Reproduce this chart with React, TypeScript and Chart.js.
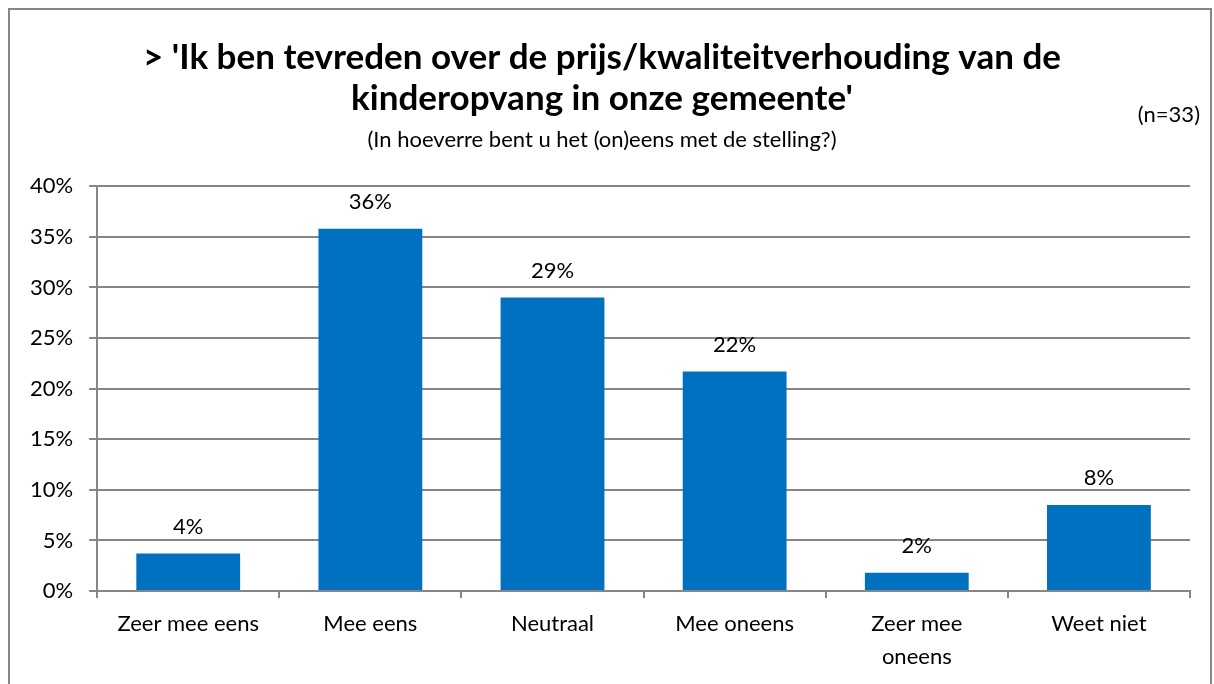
import React, { useEffect, useRef } from "react";
import { Chart, registerables } from "chart.js";

Chart.register(...registerables);

const categories: (string | string[])[] = [
  "Zeer mee eens",
  "Mee eens",
  "Neutraal",
  "Mee oneens",
  ["Zeer mee", "oneens"],
  "Weet niet",
];
const values: number[] = [3.7, 35.8, 29.0, 21.7, 1.8, 8.5];
const valueLabels: string[] = ["4%", "36%", "29%", "22%", "2%", "8%"];
const titleLines: string[] = [
  "> 'Ik ben tevreden over de prijs/kwaliteitverhouding van de",
  "kinderopvang in onze gemeente'",
];
const subtitleText = "(In hoeverre bent u het (on)eens met de stelling?)";
const sampleText = "(n=33)";

const FONT = "Lato, 'Open Sans', sans-serif";

const decorPlugin = {
  id: "decor",
  beforeDraw(chart: any) {
    const ctx = chart.ctx;
    ctx.save();
    ctx.fillStyle = "#ffffff";
    ctx.fillRect(0, 0, chart.width, chart.height);
    ctx.strokeStyle = "#868686";
    ctx.lineWidth = 2;
    ctx.strokeRect(9, 9, 1202, 720);
    ctx.restore();
  },
  afterDraw(chart: any) {
    const ctx = chart.ctx;
    ctx.save();
    ctx.fillStyle = "#000";
    ctx.font = `22px ${FONT}`;
    ctx.textAlign = "right";
    ctx.textBaseline = "middle";
    ctx.fillText(sampleText, 1200, 115);
    const meta = chart.getDatasetMeta(0);
    ctx.textAlign = "center";
    meta.data.forEach((bar: any, i: number) => {
      ctx.fillText(valueLabels[i], bar.x, bar.y - 27);
    });
    ctx.restore();
  },
};

export default function App() {
  const ref = useRef<HTMLCanvasElement>(null);
  useEffect(() => {
    if (!ref.current) return;
    const chart = new Chart(ref.current, {
      type: "bar",
      data: {
        labels: categories,
        datasets: [
          {
            data: values,
            backgroundColor: "#0070C0",
            barPercentage: 0.57,
            categoryPercentage: 1,
          },
        ],
      },
      options: {
        animation: false,
        responsive: false,
        layout: { padding: { left: 14, right: 24, top: 37, bottom: 2 } },
        plugins: {
          legend: { display: false },
          tooltip: { enabled: false },
          title: {
            display: true,
            text: titleLines,
            color: "#000",
            font: { family: FONT, size: 35, weight: "bold", lineHeight: 1.17 },
            padding: { top: 0, bottom: 8 },
          },
          subtitle: {
            display: true,
            text: subtitleText,
            color: "#000",
            font: { family: FONT, size: 22, lineHeight: 1.2 },
            padding: { top: 0, bottom: 33 },
          },
        },
        scales: {
          x: {
            grid: {
              offset: true,
              drawOnChartArea: false,
              drawTicks: true,
              tickLength: 7,
              color: "#868686",
              lineWidth: 2,
            },
            border: { display: true, color: "#868686", width: 2 },
            ticks: {
              color: "#000",
              font: { family: FONT, size: 22, lineHeight: 1.5 },
              padding: 9,
              maxRotation: 0,
              autoSkip: false,
            },
          },
          y: {
            min: 0,
            max: 40,
            grid: {
              color: "#868686",
              lineWidth: 2,
              drawTicks: true,
              tickLength: 8,
            },
            border: { display: true, color: "#868686", width: 2 },
            ticks: {
              stepSize: 5,
              color: "#000",
              font: { family: FONT, size: 22 },
              padding: 16,
              callback: (v: any) => `${v}%`,
            },
          },
        },
      },
      plugins: [decorPlugin],
    });
    return () => chart.destroy();
  }, []);
  return (
    <div style={{ position: "fixed", left: 0, top: 0, width: 1214, height: 684 }}>
      <canvas ref={ref} width={1214} height={684} style={{ display: "block" }} />
    </div>
  );
}
